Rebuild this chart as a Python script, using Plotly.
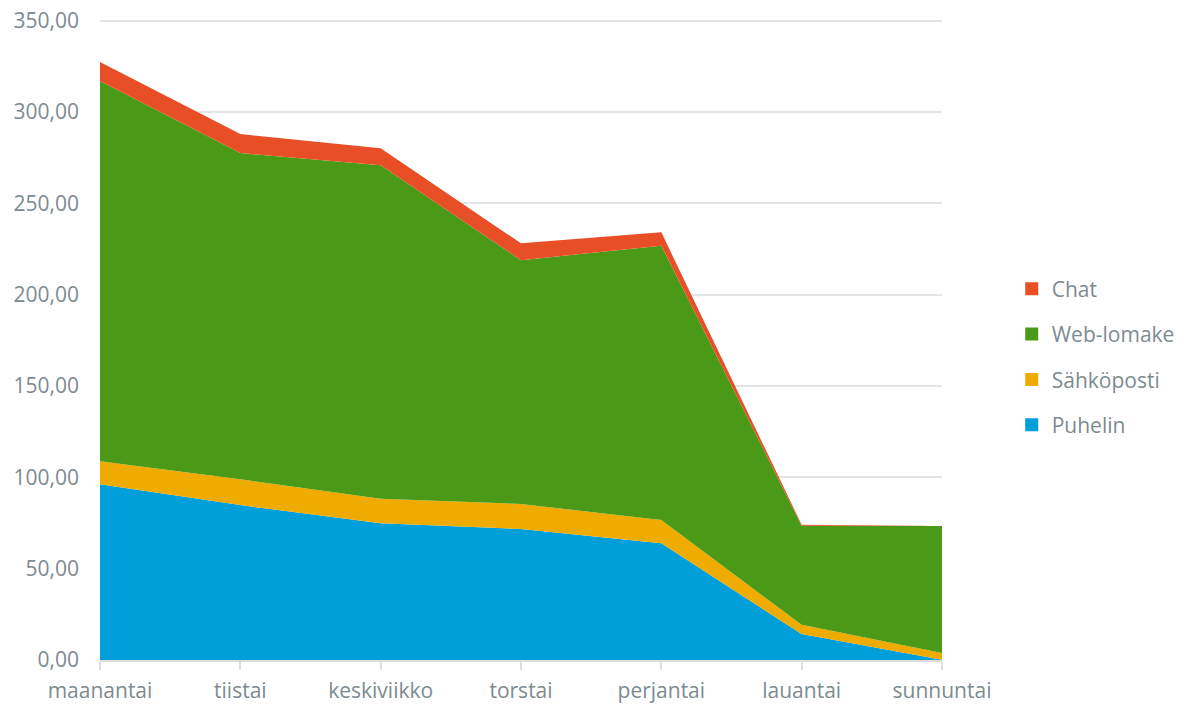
import plotly.graph_objects as go

days = ["maanantai", "tiistai", "keskiviikko", "torstai", "perjantai", "lauantai", "sunnuntai"]
puhelin = [96.2, 84.8, 74.8, 71.7, 63.9, 14.2, 0.2]
sahkoposti = [12.6, 14.1, 13.5, 13.7, 12.7, 5.1, 3.6]
web_lomake = [208.1, 178.6, 182.6, 133.5, 150.2, 54.2, 69.5]
chat = [10.4, 10.4, 9.2, 9.2, 7.3, 0.6, 0.1]
y_ticks = [0, 50, 100, 150, 200, 250, 300, 350]

series = [
    ("Puhelin", puhelin, "#009FDA"),
    ("Sähköposti", sahkoposti, "#F0AB00"),
    ("Web-lomake", web_lomake, "#4A9A17"),
    ("Chat", chat, "#E84F27"),
]

font_family = "Open Sans, Liberation Sans, sans-serif"
grey_text = "#7D8B90"

fig = go.Figure()
for name, vals, color in series:
    fig.add_trace(go.Scatter(
        x=days, y=vals, name=name, stackgroup="one", mode="none",
        fillcolor=color, showlegend=False, hoverinfo="x+y+name",
    ))
for name, vals, color in reversed(series):
    fig.add_trace(go.Scatter(
        x=[None], y=[None], name=name, mode="markers", legendgroup=name,
        marker=dict(symbol="square", size=13, color=color), showlegend=True,
    ))

fig.update_layout(
    width=1176, height=697,
    margin=dict(l=92, r=242, t=9, b=45, autoexpand=False),
    paper_bgcolor="white", plot_bgcolor="white",
    separators=", ",
    font=dict(family=font_family, size=21, color=grey_text),
    legend=dict(
        xref="container", x=0.8535, xanchor="left",
        yref="paper", y=0.471, yanchor="middle",
        traceorder="grouped", tracegroupgap=15,
        font=dict(family=font_family, size=21, color=grey_text),
        bgcolor="rgba(0,0,0,0)",
    ),
    showlegend=True,
)
fig.update_xaxes(
    type="category", range=[0, 6], showgrid=False, automargin=False,
    showline=True, linecolor="#D9DDE0", linewidth=2,
    ticks="outside", ticklen=8, tickcolor="#D9DDE0", tickwidth=2,
    ticklabelstandoff=3, ticklabeloverflow="allow",
    tickfont=dict(family=font_family, size=21, color=grey_text),
    zeroline=False,
)
fig.update_yaxes(
    range=[0, 352], tickmode="array", tickvals=y_ticks, tickformat=".2f",
    automargin=False, ticklabeloverflow="allow",
    showgrid=True, gridcolor="#E1E5E7", gridwidth=1.5,
    zeroline=False, showline=False, ticks="", ticklabelstandoff=20,
    tickfont=dict(family=font_family, size=21, color=grey_text),
)

fig.write_html("out.html")
